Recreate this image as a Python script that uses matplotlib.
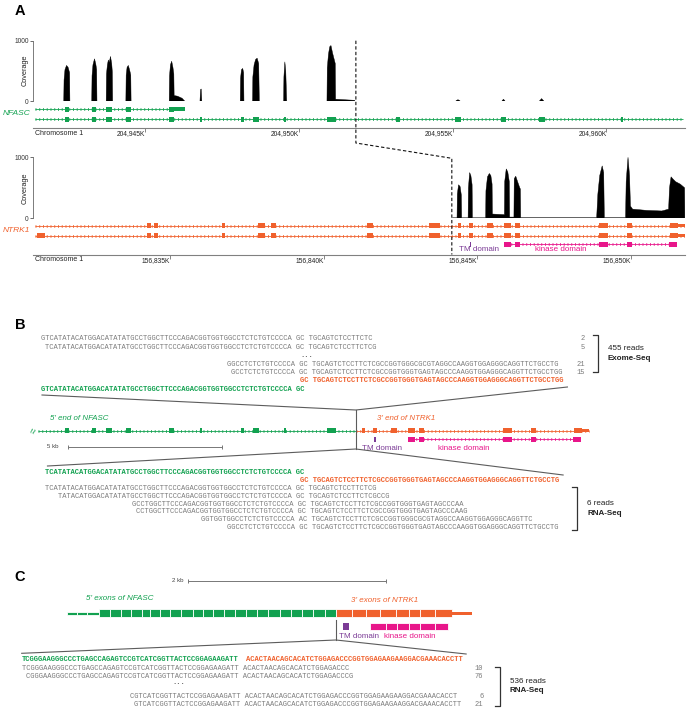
import matplotlib
matplotlib.use("Agg")
import matplotlib.pyplot as plt
from matplotlib.patches import Rectangle

plt.rcParams['font.family'] = ['Liberation Sans', 'DejaVu Sans']

# ------------------------------------------------------------------ data
# Panel A, NFASC locus (chr1, kb)
nfasc_exon_kb = [204942.45, 204943.34, 204943.83, 204944.45, 204945.86, 204946.81,
                 204948.16, 204948.60, 204949.55, 204951.06, 204953.22, 204955.17,
                 204956.65, 204957.89, 204960.50]
nfasc_exon_len = [0.14, 0.14, 0.19, 0.16, 0.16, 0.06, 0.10, 0.22, 0.07, 0.28,
                  0.16, 0.22, 0.16, 0.19, 0.05]
nfasc_tx_start, nfasc_tx_end = 204941.42, 204962.50
nfasc_short_tx_end = 204946.29
nfasc_short_tx_n_exons = 5
nfasc_ticks = [204945, 204950, 204955, 204960]
nfasc_tick_labels = ['204,945K', '204,950K', '204,955K', '204,960K']
nfasc_cov_peaks = [
    ([204942.35, 204942.36, 204942.39, 204942.44, 204942.49, 204942.54, 204942.55],
     [0, 350, 520, 590, 560, 470, 0]),
    ([204943.26, 204943.27, 204943.30, 204943.35, 204943.39, 204943.42, 204943.43],
     [0, 420, 600, 700, 620, 520, 0]),
    ([204943.73, 204943.74, 204943.77, 204943.80, 204943.83, 204943.87, 204943.91, 204943.93, 204943.94],
     [0, 450, 600, 680, 640, 740, 620, 480, 0]),
    ([204944.37, 204944.38, 204944.41, 204944.45, 204944.49, 204944.53, 204944.54],
     [0, 430, 560, 590, 520, 430, 0]),
    ([204945.78, 204945.79, 204945.82, 204945.86, 204945.90, 204945.93, 204945.94, 204946.05, 204946.20, 204946.28],
     [0, 420, 600, 660, 560, 450, 90, 80, 45, 0]),
    ([204946.78, 204946.80, 204946.82, 204946.84], [0, 190, 200, 0]),
    ([204948.09, 204948.10, 204948.13, 204948.17, 204948.20, 204948.21], [0, 380, 520, 540, 470, 0]),
    ([204948.49, 204948.50, 204948.54, 204948.59, 204948.64, 204948.69, 204948.71],
     [0, 400, 600, 690, 710, 620, 0]),
    ([204949.50, 204949.51, 204949.54, 204949.57, 204949.60], [0, 400, 650, 500, 0]),
    ([204950.91, 204950.92, 204950.96, 204951.00, 204951.04, 204951.09, 204951.14, 204951.18, 204951.19,
      204951.50, 204951.80, 204951.82],
     [0, 550, 780, 900, 920, 800, 700, 620, 30, 20, 12, 0]),
    ([204955.10, 204955.17, 204955.24], [0, 22, 0]),
    ([204956.60, 204956.65, 204956.70], [0, 30, 0]),
    ([204957.82, 204957.89, 204957.96], [0, 40, 0]),
]
nfasc_low_cov_spans = [(204941.42, 204951.85), (204953.20, 204962.30)]

# Panel A, NTRK1 locus (chr1, kb)
ntrk1_exon_kb = [156830.80, 156834.32, 156834.54, 156836.75, 156837.98, 156838.38,
                 156841.50, 156843.62, 156844.42, 156844.78, 156845.41, 156845.98,
                 156846.31, 156849.09, 156849.95, 156851.40]
ntrk1_exon_len = [0.27, 0.13, 0.13, 0.11, 0.20, 0.17, 0.20, 0.36, 0.11, 0.13,
                  0.17, 0.20, 0.17, 0.29, 0.17, 0.26]
ntrk1_tx_start, ntrk1_tx_end = 156830.62, 156851.75
ntrk1_ticks = [156835, 156840, 156845, 156850]
ntrk1_tick_labels = ['156,835K', '156,840K', '156,845K', '156,850K']
ntrk1_cov_x = [156844.17, 156844.20, 156844.34, 156844.35, 156844.39, 156844.44, 156844.48, 156844.49,
               156844.70, 156844.71, 156844.75, 156844.79, 156844.83, 156844.84,
               156845.27, 156845.28, 156845.33, 156845.39, 156845.44, 156845.48, 156845.49, 156845.88,
               156845.89, 156845.94, 156845.99, 156846.04, 156846.05, 156846.19,
               156846.20, 156846.25, 156846.31, 156846.38, 156846.40, 156846.41,
               156848.88, 156848.92, 156848.98, 156849.06, 156849.11, 156849.13,
               156849.82, 156849.84, 156849.90, 156849.95, 156849.98, 156850.05, 156850.50, 156851.00,
               156851.22, 156851.25, 156851.30, 156851.37, 156851.45, 156851.60, 156851.74, 156851.75]
ntrk1_cov_y = [0, 8, 8, 400, 550, 520, 380, 8,
               8, 500, 750, 700, 550, 8,
               8, 450, 680, 735, 700, 560, 70, 60,
               600, 810, 760, 600, 20, 20,
               650, 690, 600, 500, 480, 10,
               10, 400, 700, 860, 750, 10,
               10, 600, 1000, 700, 200, 150, 130, 120,
               150, 500, 680, 640, 600, 560, 500, 0]

# Fusion breakpoint
fusion_nfasc_kb = 204951.85
fusion_ntrk1_kb = 156844.17

# Protein domains on NTRK1
tm_domain_kb = 156844.78
tm_domain_len = 0.06
kinase_exon_kb = [156845.98, 156846.31, 156849.09, 156849.95, 156851.35]
kinase_exon_len = [0.20, 0.17, 0.29, 0.17, 0.26]

# Panel C fusion transcript (kb along transcript)
fusion_nfasc_utr_bounds = [0.0, 0.101, 0.208, 0.327]
fusion_nfasc_cds_bounds = [0.327, 0.438, 0.546, 0.650, 0.759, 0.843, 0.944, 1.045, 1.156, 1.275,
                           1.382, 1.483, 1.591, 1.702, 1.814, 1.922, 2.040, 2.158, 2.266, 2.377,
                           2.495, 2.613, 2.724]
fusion_ntrk1_cds_bounds = [2.724, 2.889, 3.025, 3.170, 3.328, 3.463, 3.574, 3.723, 3.898]
fusion_tx_end = 4.097
fusion_tm = (2.798, 2.859)
fusion_kinase_bounds = [3.068, 3.227, 3.341, 3.463, 3.574, 3.723, 3.857]

# Sequences (column offset, text, count)
exome_ref_nfasc = (0, "GTCATATACATGGACATATATGCCTGGCTTCCCAGACGGTGGTGGCCTCTCTGTCCCCA GC")
exome_ref_ntrk1 = (60, "GC TGCAGTCTCCTTCTCGCCGGTGGGTGAGTAGCCCAAGGTGGAGGGCAGGTTCTGCCTGG")
exome_reads = [
    (0, "GTCATATACATGGACATATATGCCTGGCTTCCCAGACGGTGGTGGCCTCTCTGTCCCCA GC TGCAGTCTCCTTCTC", "2"),
    (1, "TCATATACATGGACATATATGCCTGGCTTCCCAGACGGTGGTGGCCTCTCTGTCCCCA GC TGCAGTCTCCTTCTCG", "5"),
    (43, "GGCCTCTCTGTCCCCA GC TGCAGTCTCCTTCTCGCCGGTGGGCGCGTAGGCCAAGGTGGAGGGCAGGTTCTGCCTG", "21"),
    (44, "GCCTCTCTGTCCCCA GC TGCAGTCTCCTTCTCGCCGGTGGGTGAGTAGCCCAAGGTGGAGGGCAGGTTCTGCCTGG", "15"),
]
exome_total = "455 reads"

rna_ref_nfasc = (1, "TCATATACATGGACATATATGCCTGGCTTCCCAGACGGTGGTGGCCTCTCTGTCCCCA GC")
rna_ref_ntrk1 = (60, "GC TGCAGTCTCCTTCTCGCCGGTGGGTGAGTAGCCCAAGGTGGAGGGCAGGTTCTGCCTG")
rna_reads = [
    (1, "TCATATACATGGACATATATGCCTGGCTTCCCAGACGGTGGTGGCCTCTCTGTCCCCA GC TGCAGTCTCCTTCTCG"),
    (4, "TATACATGGACATATATGCCTGGCTTCCCAGACGGTGGTGGCCTCTCTGTCCCCA GC TGCAGTCTCCTTCTCGCCG"),
    (21, "GCCTGGCTTCCCAGACGGTGGTGGCCTCTCTGTCCCCA GC TGCAGTCTCCTTCTCGCCGGTGGGTGAGTAGCCCAA"),
    (22, "CCTGGCTTCCCAGACGGTGGTGGCCTCTCTGTCCCCA GC TGCAGTCTCCTTCTCGCCGGTGGGTGAGTAGCCCAAG"),
    (37, "GGTGGTGGCCTCTCTGTCCCCA AC TGCAGTCTCCTTCTCGCCGGTGGGCGCGTAGGCCAAGGTGGAGGGCAGGTTC"),
    (43, "GGCCTCTCTGTCCCCA GC TGCAGTCTCCTTCTCGCCGGTGGGTGAGTAGCCCAAGGTGGAGGGCAGGTTCTGCCTG"),
]
rna_total = "6 reads"

c_ref_nfasc = (0, "TCGGGAAGGGCCCTGAGCCAGAGTCCGTCATCGGTTACTCCGGAGAAGATT")
c_ref_ntrk1 = (52, "ACACTAACAGCACATCTGGAGACCCGGTGGAGAAGAAGGACGAAACACCTT")
c_reads_top = [
    (0, "TCGGGAAGGGCCCTGAGCCAGAGTCCGTCATCGGTTACTCCGGAGAAGATT ACACTAACAGCACATCTGGAGACCC", "10"),
    (1, "CGGGAAGGGCCCTGAGCCAGAGTCCGTCATCGGTTACTCCGGAGAAGATT ACACTAACAGCACATCTGGAGACCCG", "76"),
]
c_reads_bottom = [
    (25, "CGTCATCGGTTACTCCGGAGAAGATT ACACTAACAGCACATCTGGAGACCCGGTGGAGAAGAAGGACGAAACACCT", "6"),
    (26, "GTCATCGGTTACTCCGGAGAAGATT ACACTAACAGCACATCTGGAGACCCGGTGGAGAAGAAGGACGAAACACCTT", "21"),
]
c_total = "536 reads"

# ------------------------------------------------------------------ style
GREEN = '#12a150'
ORANGE = '#f0612d'
MAGENTA = '#e8168a'
PURPLE = '#7b3b96'
SEQ_GRAY = '#7b7b7b'
LINE_GRAY = '#5c5c5c'
MONO = 'Liberation Mono'
CW = 4.315                       # px per character
FS_SEQ = CW / (0.6 * 100 / 72)   # font size giving that advance

W, H = 688, 709
fig = plt.figure(figsize=(W / 100, H / 100), dpi=100)
ov = fig.add_axes([0, 0, 1, 1], zorder=10)
ov.set_xlim(0, W)
ov.set_ylim(H, 0)
ov.axis('off')
ov.patch.set_alpha(0)


def box(x0, y0, x1, y1, z=1):
    ax = fig.add_axes([x0 / W, 1 - y1 / H, (x1 - x0) / W, (y1 - y0) / H], zorder=z)
    ax.patch.set_alpha(0)
    return ax


def to_px(ax, x, y):
    d = ax.transData.transform((x, y))
    return d[0], H - d[1]


def intron(ax, x0, x1, y, color):
    ax.plot([x0, x1], [y, y], color=color, lw=0.6, solid_capstyle='butt', zorder=2)
    ax.plot([x0, x1], [y, y], color=color, lw=2.0, ls=(0, (0.35, 1.0)),
            dash_capstyle='butt', alpha=0.85, zorder=2)


def exon_boxes(ax, centers, widths, y, h, color, shift=0.0):
    for c, w in zip(centers, widths):
        ax.add_patch(Rectangle((c + shift - w / 2, y - h / 2), w, h, facecolor=color,
                               edgecolor='none', zorder=3))


def clean(ax, keep_bottom=False):
    for s in ['top', 'right', 'left', 'bottom']:
        ax.spines[s].set_visible(False)
    if keep_bottom:
        ax.spines['bottom'].set_visible(True)
        ax.spines['bottom'].set_color('#808080')
        ax.spines['bottom'].set_linewidth(0.8)
    ax.set_yticks([])


PXKB = 30.75
XL0, XL1 = 33, 685
xlim_nfasc = (204941.35, 204941.35 + (XL1 - XL0) / PXKB)
xlim_ntrk1 = (156830.55, 156830.55 + (XL1 - XL0) / PXKB)


def coverage(y0, y1, xlim, polys, spans, label_y):
    ax = box(XL0, y0, XL1, y1)
    ax.set_xlim(*xlim)
    ax.set_ylim(0, 1000)
    for xs, ys in polys:
        ax.fill(xs, ys, color='black', lw=0.3)
    for a, b in spans:
        ax.plot([a, b], [6, 6], color='#9a9a9a', lw=0.5, ls=(0, (3, 2)))
    for s in ['top', 'right', 'bottom']:
        ax.spines[s].set_visible(False)
    ax.spines['left'].set_color('#666666')
    ax.spines['left'].set_linewidth(0.6)
    ax.set_xticks([])
    ax.set_yticks([0, 1000])
    ax.set_yticklabels(['0', '1000'], fontsize=4.8)
    ax.tick_params(axis='y', length=2, width=0.5, pad=1, colors='#333333')
    ov.text(25, label_y, 'Coverage', rotation=90, fontsize=5.3, ha='center', va='center',
            color='#222222')
    return ax


def ruler(ax, ticks, labels):
    ax.set_xticks(ticks)
    ax.set_xticklabels(labels, fontsize=4.8, color='#222222')
    for t in ax.get_xticklabels():
        t.set_ha('right')
    ax.tick_params(axis='x', length=3, width=0.5, pad=-1.5, colors='#555555', labelcolor='#222222')


# ------------------------------------------------------------------ Panel A
ov.text(20, 11, 'A', fontsize=10.5, fontweight='bold', ha='center', va='center')

covT = coverage(40.7, 101, xlim_nfasc, nfasc_cov_peaks, nfasc_low_cov_spans, 70)

trkT = box(XL0, 103, XL1, 127.7)
trkT.set_xlim(*xlim_nfasc)
trkT.set_ylim(127.7, 103)
clean(trkT, keep_bottom=True)
ruler(trkT, nfasc_ticks, nfasc_tick_labels)
n5 = nfasc_short_tx_n_exons
intron(trkT, nfasc_tx_start, nfasc_exon_kb[n5 - 1], 109, GREEN)
exon_boxes(trkT, nfasc_exon_kb[:n5], nfasc_exon_len[:n5], 109, 5, GREEN)
trkT.add_patch(Rectangle((nfasc_exon_kb[n5 - 1], 109 - 1.6), nfasc_short_tx_end - nfasc_exon_kb[n5 - 1],
                         3.2, facecolor=GREEN, edgecolor='none', zorder=3))
intron(trkT, nfasc_tx_start, nfasc_tx_end, 119, GREEN)
exon_boxes(trkT, nfasc_exon_kb, nfasc_exon_len, 119, 5, GREEN)
ov.text(3, 113.5, 'NFASC', color=GREEN, style='italic', fontsize=6, ha='left', va='center')
ov.text(35, 133.5, 'Chromosome 1', fontsize=5, ha='left', va='center', color='#222222')

covB = coverage(157.3, 218.3, xlim_ntrk1, [(ntrk1_cov_x, ntrk1_cov_y)], [], 188)

trkB = box(XL0, 220, XL1, 254.5)
trkB.set_xlim(*xlim_ntrk1)
trkB.set_ylim(254.5, 220)
clean(trkB, keep_bottom=True)
ruler(trkB, ntrk1_ticks, ntrk1_tick_labels)
intron(trkB, ntrk1_tx_start, ntrk1_tx_end, 225.7, ORANGE)
exon_boxes(trkB, ntrk1_exon_kb[1:], ntrk1_exon_len[1:], 225.7, 5, ORANGE)
trkB.add_patch(Rectangle((ntrk1_exon_kb[-1], 225.7 - 1.6), ntrk1_tx_end - ntrk1_exon_kb[-1], 3.2,
                         facecolor=ORANGE, edgecolor='none', zorder=3))
intron(trkB, ntrk1_tx_start, ntrk1_tx_end, 235.7, ORANGE)
exon_boxes(trkB, ntrk1_exon_kb, ntrk1_exon_len, 235.7, 5, ORANGE)
trkB.add_patch(Rectangle((ntrk1_exon_kb[-1], 235.7 - 1.6), ntrk1_tx_end - ntrk1_exon_kb[-1], 3.2,
                         facecolor=ORANGE, edgecolor='none', zorder=3))
exon_boxes(trkB, [tm_domain_kb], [tm_domain_len], 244, 5, PURPLE)
intron(trkB, kinase_exon_kb[0], kinase_exon_kb[-1], 244, MAGENTA)
exon_boxes(trkB, kinase_exon_kb, kinase_exon_len, 244, 5, MAGENTA)
ov.text(3, 230.5, 'NTRK1', color=ORANGE, style='italic', fontsize=6, ha='left', va='center')
ov.text(35, 259.5, 'Chromosome 1', fontsize=5, ha='left', va='center', color='#222222')
tmx, _ = to_px(trkB, tm_domain_kb, 0)
ov.text(tmx - 12, 249.8, 'TM domain', color=PURPLE, fontsize=5.8, ha='left', va='center')
kx0, _ = to_px(trkB, kinase_exon_kb[0], 0)
ov.text(kx0 + 28, 249.8, 'kinase domain', color=MAGENTA, fontsize=5.8, ha='left', va='center')

# dashed breakpoint connector
jx_top, _ = to_px(trkT, fusion_nfasc_kb, 0)
jx_bot, _ = to_px(trkB, fusion_ntrk1_kb, 0)
ov.plot([jx_top, jx_top, jx_bot, jx_bot], [40.7, 143, 158.3, 254.5], color='#111111', lw=0.8,
        ls=(0, (3, 2)))

# ------------------------------------------------------------------ Panel B
ov.text(20, 325, 'B', fontsize=10.5, fontweight='bold', ha='center', va='center')
XB = 41


def seq(x0, col, y, s, color=SEQ_GRAY, bold=False):
    ov.text(x0 + col * CW, y, s, fontfamily=MONO, fontsize=FS_SEQ, color=color,
            fontweight='bold' if bold else 'normal', ha='left', va='center')


def bracket(x, ya, yb, label, kind):
    ov.plot([x - 5, x, x, x - 5], [ya, ya, yb, yb], color='#333333', lw=0.9)
    ym = (ya + yb) / 2
    ov.text(x + 10, ym - 4.7, label, fontsize=5.8, ha='left', va='center', color='#222222')
    ov.text(x + 10, ym + 4.7, kind, fontsize=5.8, ha='left', va='center', fontweight='bold',
            color='#222222')


ys_ex = [339, 347.3, 364, 372.3]
for (col, s, n), y in zip(exome_reads, ys_ex):
    seq(XB, col, y, s)
    ov.text(XB + 126 * CW, y, n, fontfamily=MONO, fontsize=FS_SEQ, color=SEQ_GRAY, ha='right',
            va='center')
seq(XB, 60, 355.3, '...', color='#333333', bold=True)
seq(XB, exome_ref_ntrk1[0], 381, exome_ref_ntrk1[1], color=ORANGE, bold=True)
seq(XB, exome_ref_nfasc[0], 389.5, exome_ref_nfasc[1], color=GREEN, bold=True)
bracket(598, 335, 372, exome_total, 'Exome-Seq')

# gene diagram of fusion
dg = box(XL0, 412, XL1, 452)
dg.set_xlim(*xlim_nfasc)
dg.set_ylim(452, 412)
dg.axis('off')
shift = fusion_nfasc_kb - fusion_ntrk1_kb
intron(dg, nfasc_tx_start + 0.1, fusion_nfasc_kb, 430.5, GREEN)
keep = [(c, w) for c, w in zip(nfasc_exon_kb, nfasc_exon_len) if c < fusion_nfasc_kb]
exon_boxes(dg, [k[0] for k in keep], [k[1] for k in keep], 430.5, 5, GREEN)
keep = [(c, w) for c, w in zip(ntrk1_exon_kb, ntrk1_exon_len) if c > fusion_ntrk1_kb]
intron(dg, fusion_nfasc_kb, ntrk1_tx_end + shift, 430.5, ORANGE)
exon_boxes(dg, [k[0] for k in keep], [k[1] for k in keep], 430.5, 5, ORANGE, shift=shift)
dg.add_patch(Rectangle((ntrk1_exon_kb[-1] + shift, 430.5 - 1.6), ntrk1_tx_end - ntrk1_exon_kb[-1], 3.2,
                       facecolor=ORANGE, edgecolor='none', zorder=3))
exon_boxes(dg, [tm_domain_kb], [tm_domain_len], 439.3, 5, PURPLE, shift=shift)
intron(dg, kinase_exon_kb[0] + shift, kinase_exon_kb[-1] + shift, 439.3, MAGENTA)
exon_boxes(dg, kinase_exon_kb, kinase_exon_len, 439.3, 5, MAGENTA, shift=shift)
sb0 = 204942.49
dg.plot([sb0, sb0 + 5], [447, 447], color='#777777', lw=0.7, marker='|', markersize=3,
        markeredgewidth=0.7)
ov.text(47, 447, '5 kb', fontsize=4.4, ha='left', va='center', color='#444444')
ov.text(34, 430.5, '\u2248', fontsize=7, color=GREEN, rotation=70, ha='center', va='center')
ov.text(50, 418, "5' end of NFASC", fontsize=5.7, color=GREEN, style='italic', ha='left', va='center')
ov.text(377, 419, "3' end of NTRK1", fontsize=5.7, color=ORANGE, style='italic', ha='left', va='center')
tmx, _ = to_px(dg, tm_domain_kb + shift, 0)
ov.text(tmx - 13, 448, 'TM domain', color=PURPLE, fontsize=5.8, ha='left', va='center')
kx0, _ = to_px(dg, kinase_exon_kb[0] + shift, 0)
kx1, _ = to_px(dg, kinase_exon_kb[-1] + shift, 0)
ov.text((kx0 + kx1) / 2 - 30, 448, 'kinase domain', color=MAGENTA, fontsize=5.8, ha='center',
        va='center')

jB, _ = to_px(dg, fusion_nfasc_kb, 0)
ov.plot([jB, jB], [410, 449], color=LINE_GRAY, lw=0.8)
ov.plot([XB + 1, jB, XB + 122 * CW], [395, 410, 387], color=LINE_GRAY, lw=0.8)
ov.plot([XB + 1.5 * CW, jB, XB + 121 * CW], [466, 449, 475], color=LINE_GRAY, lw=0.8)

seq(XB, rna_ref_nfasc[0], 472.7, rna_ref_nfasc[1], color=GREEN, bold=True)
seq(XB, rna_ref_ntrk1[0], 480.3, rna_ref_ntrk1[1], color=ORANGE, bold=True)
for i, (col, s) in enumerate(rna_reads):
    seq(XB, col, 488.5 + 7.8 * i, s)
bracket(577, 487, 530, rna_total, 'RNA-Seq')

# ------------------------------------------------------------------ Panel C
ov.text(20, 577, 'C', fontsize=10.5, fontweight='bold', ha='center', va='center')
PXC = 98.85
cx0, cx1 = 60, 480
axc = box(cx0, 575, cx1, 633)
axc.set_xlim(-(66.7 - cx0) / PXC, (cx1 - 66.7) / PXC)
axc.set_ylim(633, 575)
axc.axis('off')


def segs(bounds, y, h, color):
    for a, b in zip(bounds[:-1], bounds[1:]):
        axc.add_patch(Rectangle((a, y - h / 2), b - a, h, facecolor=color, edgecolor='white',
                                lw=0.6, zorder=3))


segs(fusion_nfasc_utr_bounds, 613.3, 3.6, GREEN)
segs(fusion_nfasc_cds_bounds, 613.0, 8, GREEN)
segs(fusion_ntrk1_cds_bounds, 613.0, 8, ORANGE)
axc.add_patch(Rectangle((fusion_ntrk1_cds_bounds[-1], 613.3 - 1.8), fusion_tx_end - fusion_ntrk1_cds_bounds[-1],
                        3.6, facecolor=ORANGE, edgecolor='none', zorder=3))
axc.add_patch(Rectangle((fusion_tm[0], 623), fusion_tm[1] - fusion_tm[0], 6.8, facecolor=PURPLE,
                        edgecolor='none', zorder=3))
segs(fusion_kinase_bounds, 626.4, 7, MAGENTA)
axc.plot([1.227, 3.227], [580.7, 580.7], color='#777777', lw=0.7, marker='|', markersize=3,
         markeredgewidth=0.7)
ov.text(183, 580.7, '2 kb', fontsize=4.4, ha='right', va='center', color='#444444')
ov.text(86, 599, "5' exons of NFASC", fontsize=5.8, color=GREEN, style='italic', ha='left', va='center')
ov.text(351, 600.7, "3' exons of NTRK1", fontsize=5.8, color=ORANGE, style='italic', ha='left', va='center')
ov.text(339, 637, 'TM domain', color=PURPLE, fontsize=5.8, ha='left', va='center')
ov.text(384, 637, 'kinase domain', color=MAGENTA, fontsize=5.8, ha='left', va='center')

jC, _ = to_px(axc, fusion_ntrk1_cds_bounds[0], 0)
XC = 21.7
ov.plot([jC, jC], [620, 640], color=LINE_GRAY, lw=0.8)
ov.plot([XC, jC, XC + 103 * CW], [653.3, 640, 654], color=LINE_GRAY, lw=0.8)

seq(XC, c_ref_nfasc[0], 659.5, c_ref_nfasc[1], color=GREEN, bold=True)
seq(XC, c_ref_ntrk1[0], 659.5, c_ref_ntrk1[1], color=ORANGE, bold=True)
for (col, s, n), y in zip(c_reads_top + c_reads_bottom, [668, 676, 696, 704]):
    seq(XC, col, y, s)
    ov.text(XC + 107 * CW, y, n, fontfamily=MONO, fontsize=FS_SEQ, color=SEQ_GRAY, ha='right',
            va='center')
seq(XC, 35, 683, '...', color='#333333', bold=True)
bracket(500, 667, 705.5, c_total, 'RNA-Seq')

fig.savefig('out.png', dpi=100)
